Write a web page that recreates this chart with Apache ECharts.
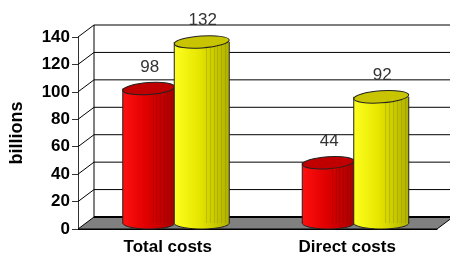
<!DOCTYPE html>
<html>
<head>
<meta charset="utf-8">
<script src="https://cdn.jsdelivr.net/npm/echarts@6/dist/echarts.min.js"></script>
<style>
html,body{margin:0;padding:0;background:#fff;}
#chart{width:450px;height:257px;}
</style>
</head>
<body>
<div id="chart"></div>
<script>
var categories = ['Total costs', 'Direct costs'];
var redValues = [98, 44];
var yellowValues = [132, 92];
var yTicks = [0, 20, 40, 60, 80, 100, 120, 140];

(function(){
	var myChart = echarts.init(document.getElementById('chart'));
	var DX = 16, DY = -12; // depth of the 3d box

	//back wall, floor and the slanted grid lines
	function frameItem(params, api){
		var cs = params.coordSys;
		var t = api.value(1);
		var y = api.coord([0, t])[1];
		var gx = cs.x, gr = cs.x + cs.width;
		var kids = [];
		if (t === 0) {
			var top = api.coord([0, yTicks[yTicks.length - 1]])[1];
			kids.push({type:'polygon', shape:{points:[[gx, y],[gr, y],[gr + DX, y + DY],[gx + DX, y + DY]]},
				style:{fill:'#808080', stroke:'#000', lineWidth:1}});
			kids.push({type:'line', shape:{x1:gx + DX, y1:y + DY, x2:gr + DX, y2:y + DY}, style:{stroke:'#000', lineWidth:2}});
			kids.push({type:'line', shape:{x1:gx + DX, y1:y + DY, x2:gx + DX, y2:top + DY}, style:{stroke:'#000', lineWidth:1}});
		} else {
			kids.push({type:'line', shape:{x1:gx, y1:y, x2:gx + DX, y2:y + DY}, style:{stroke:'#000', lineWidth:1}});
			kids.push({type:'line', shape:{x1:gx + DX, y1:y + DY, x2:gr + DX, y2:y + DY}, style:{stroke:'#000', lineWidth:1}});
		}
		return {type:'group', children:kids};
	}

	//cylinder bars
	function cylinder(shift, width, c1, c2, c3, ctop, stripe){
		return function(params, api){
			var v = api.value(1);
			var top = api.coord([api.value(0), v]);
			var base = api.coord([api.value(0), 0]);
			var cx = top[0] + shift + DX / 2;
			var ty = top[1] + DY / 2, by = base[1] + DY / 2;
			var rx = width / 2, ry = 6;
			var grad = new echarts.graphic.LinearGradient(0, 0, 1, 0, [
				{offset:0, color:c1},{offset:0.45, color:c2},{offset:1, color:c3}
			]);
			var kids = [
				{type:'ellipse', shape:{cx:cx, cy:by, rx:rx, ry:ry}, style:{fill:grad, stroke:'#222', lineWidth:1}},
				{type:'rect', shape:{x:cx - rx, y:ty, width:width, height:by - ty}, style:{fill:grad}},
				{type:'line', shape:{x1:cx - rx, y1:ty, x2:cx - rx, y2:by}, style:{stroke:'#222', lineWidth:1}},
				{type:'line', shape:{x1:cx + rx, y1:ty, x2:cx + rx, y2:by}, style:{stroke:'#222', lineWidth:1}}
			];
			//faint stripes on the shaded side
			for (var i = 0; i < 6; i++) {
				var sx = Math.round(cx + rx * (0.15 + i * 0.14)) + 0.5;
				kids.push({type:'line', shape:{x1:sx, y1:ty, x2:sx, y2:by}, style:{stroke:stripe, lineWidth:1}});
			}
			kids.push({type:'ellipse', shape:{cx:cx, cy:ty, rx:rx, ry:ry}, rotation:0.07, originX:cx, originY:ty,
				style:{fill:ctop, stroke:'#222', lineWidth:1}});
			kids.push({type:'text', x:cx + 1, y:top[1] - 19,
				style:{text:String(v), align:'center', verticalAlign:'bottom', font:'17px "Liberation Sans"', fill:'#333'}});
			return {type:'group', children:kids};
		};
	}

	var option = {
		animation:false,
		grid:{left:77, right:13, top:37, bottom:28},
		xAxis:{
			type:'category',
			data:categories,
			axisLine:{lineStyle:{color:'#000'}},
			axisTick:{length:4, lineStyle:{color:'#000'}},
			axisLabel:{color:'#000', fontWeight:'bold', fontSize:17, fontFamily:'Liberation Sans', margin:10}
		},
		yAxis:{
			type:'value',
			min:0, max:140, interval:20,
			name:'billions',
			nameLocation:'middle',
			nameRotate:90,
			nameGap:52,
			nameTextStyle:{color:'#000', fontWeight:'bold', fontSize:18, fontFamily:'Liberation Sans'},
			splitLine:{show:false},
			axisLine:{show:true, lineStyle:{color:'#333'}},
			axisTick:{show:true, length:6, lineStyle:{color:'#333'}},
			axisLabel:{color:'#000', fontWeight:'bold', fontSize:17, fontFamily:'Liberation Sans', margin:8}
		},
		series:[
			{
				type:'custom',
				renderItem:frameItem,
				data:yTicks.map(function(t){ return [0, t]; }),
				z:1
			},
			{
				name:'red',
				type:'custom',
				renderItem:cylinder(-27, 52, '#ff1010', '#e00000', '#a80000', '#c00000', 'rgba(120,0,0,0.25)'),
				data:redValues.map(function(v, i){ return [i, v]; }),
				z:3
			},
			{
				name:'yellow',
				type:'custom',
				renderItem:cylinder(26, 55, '#ffff20', '#e6e600', '#b0b000', '#c8c400', 'rgba(110,110,0,0.25)'),
				data:yellowValues.map(function(v, i){ return [i, v]; }),
				z:4
			}
		]
	};
	myChart.setOption(option);
	window.addEventListener('resize', function(){
		myChart.resize();
	});
})();
</script>
</body>
</html>
